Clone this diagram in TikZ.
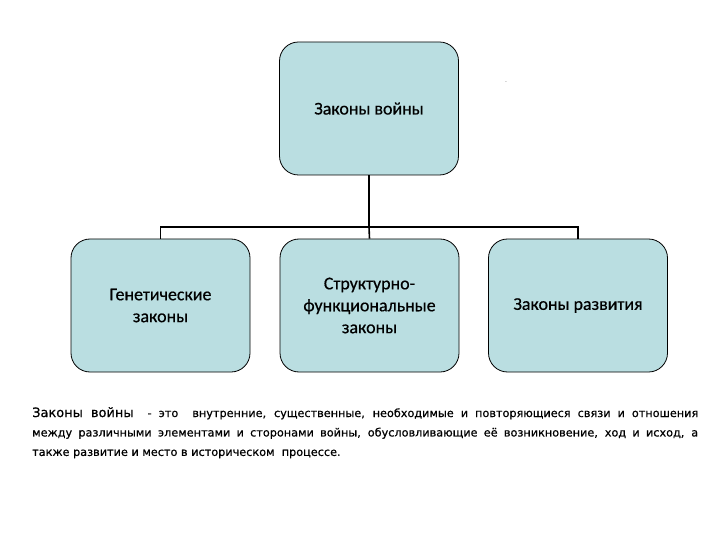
\documentclass[tikz,border=0pt]{standalone}
\usepackage{fontspec}
\setmainfont{Carlito}
\newfontfamily\boxfont{Carlito}[FakeBold=0.5]
\newfontfamily\parafont{DejaVu Sans}[FakeBold=0.6]
\definecolor{boxfill}{RGB}{186,222,225}
\tikzset{
  lawbox/.style={draw=black, line width=0.8bp, fill=boxfill, rounded corners=19bp,
    minimum width=179bp, minimum height=133bp, align=center, inner sep=2bp,
    font=\boxfont\fontsize{18}{22}\selectfont},
  conn/.style={draw=black, line width=1.6bp}
}
\begin{document}
\begin{tikzpicture}[x=1bp,y=-1bp]
\useasboundingbox (0,0) rectangle (720,540);
\node[lawbox] (top) at (369,108.5) {\raisebox{-3bp}{Законы войны}};
\node[lawbox] (b1) at (160.5,305.5) {Генетические\\законы};
\node[lawbox] (b2) at (369.5,305.5) {Структурно-\\функциональные\\законы};
\node[lawbox] (b3) at (578,305.5) {Законы развития};
\coordinate (j) at (369,227);
\draw[conn] (top.south) -- (j);
\draw[conn] (b1.north) |- (j) -| (b3.north);
\draw[conn] (j) -- (b2.north);
\node[text=gray, font=\fontsize{6}{6}\selectfont, inner sep=0pt] (mark) at (506,83) {-};
\node[anchor=north west, text width=666bp, align=justify, inner sep=0pt,
  font=\parafont\fontsize{11.3}{19.5}\selectfont] (para) at (32,407)
  {{\fontsize{13}{19.5}\selectfont Законы войны} \ - это \ внутренние, существенные, необходимые и повторяющиеся связи и отношения\linebreak
  между различными элементами и сторонами войны, обусловливающие её возникновение, ход и исход, а\linebreak
  также развитие и место в историческом \ процессе.};
\end{tikzpicture}
\end{document}
